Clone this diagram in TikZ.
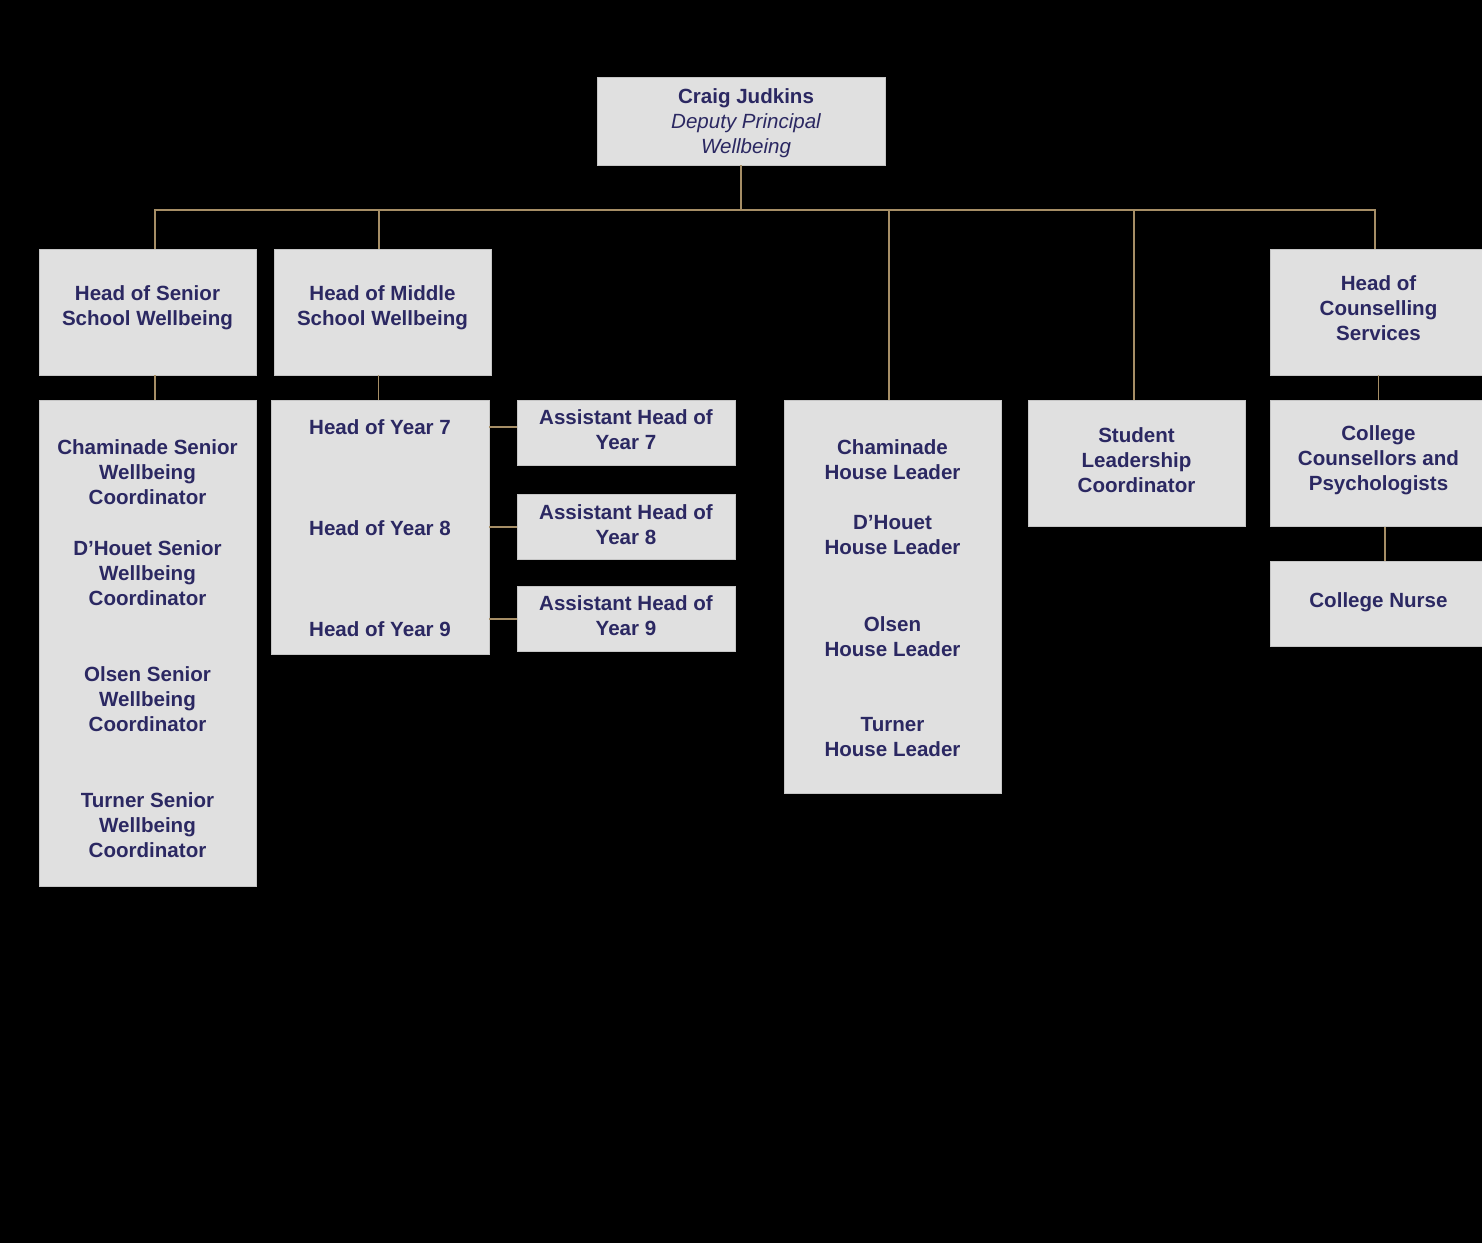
\documentclass[tikz,border=0pt]{standalone}
\usepackage{fontspec}
\setmainfont{Liberation Sans}
\usepackage{tikz}
\usetikzlibrary{shapes,positioning}
\definecolor{boxgray}{HTML}{E0E0E0}
\definecolor{inkblue}{HTML}{2B2862}
\definecolor{linkgold}{HTML}{A68E66}
\tikzstyle{box}=[rectangle, draw=gray!45, fill=boxgray, line width=0.4pt, minimum width=4.34cm]
\tikzstyle{label}=[align=center, inner sep=0pt]
\tikzstyle{link}=[draw=linkgold, line width=1pt]

\begin{document}
\begin{tikzpicture}[x=0.02cm,y=-0.02cm,font=\fontsize{11.7}{14.2}\selectfont\bfseries,text=inkblue]

        \fill[black] (0,0) rectangle (1482,1243);
        \useasboundingbox (0,0) rectangle (1482,1243);

        \node[box,
            minimum width=5.76cm,
            minimum height=1.76cm] (top) at (741,121) {};
        \node[label] (topname) at (746,123) {Craig Judkins\\\mdseries\itshape Deputy Principal\\\mdseries\itshape Wellbeing};

        \node[box,
            minimum height=2.52cm] (senhead) at (147.5,312) {};
        \node[label] at ([yshift=0.09cm]senhead) {Head of Senior\\School Wellbeing};

        \node[box,
            minimum height=2.52cm] (midhead) at (382.5,312) {};
        \node[label] at ([yshift=0.09cm]midhead) {Head of Middle\\School Wellbeing};

        \node[box,
            minimum height=2.52cm] (counhead) at (1378.5,312) {};
        \node[label] at ([yshift=0.08cm]counhead) {Head of\\Counselling\\Services};

        % senior list
        \node[box,
            minimum height=9.72cm] (senlist) at (147.5,643) {};
        \node[label] (sen1) at (147.5,472) {Chaminade Senior\\Wellbeing\\Coordinator};
        \node[label] (sen2) at (147.5,573) {D’Houet Senior\\Wellbeing\\Coordinator};
        \node[label] (sen3) at (147.5,699) {Olsen Senior\\Wellbeing\\Coordinator};
        \node[label] (sen4) at (147.5,825) {Turner Senior\\Wellbeing\\Coordinator};

        % middle years
        \node[box,
            minimum width=4.36cm,
            minimum height=5.08cm] (yearbox) at (380,527) {};
        \node[label] (y7) at (380,427) {Head of Year 7};
        \node[label] (y8) at (380,528) {Head of Year 8};
        \node[label] (y9) at (380,629) {Head of Year 9};

        \node[box,
            minimum width=4.36cm,
            minimum height=1.3cm] (asst7) at (626,432.5) {};
        \node[box,
            minimum width=4.36cm,
            minimum height=1.3cm,
            below=0.58cm of asst7] (asst8) {};
        \node[box,
            minimum width=4.36cm,
            minimum height=1.3cm,
            below=0.52cm of asst8] (asst9) {};
        \foreach \n in {7,8,9}
            \node[label] at ([yshift=0.06cm]asst\n) {Assistant Head of\\Year \n};

        % houses
        \node[box,
            minimum height=7.86cm] (houses) at (892.5,596.5) {};
        \node[label] (h1) at (892.5,459.5) {Chaminade\\House Leader};
        \node[label] (h2) at (892.5,535.5) {D’Houet\\House Leader};
        \node[label] (h3) at (892.5,636.5) {Olsen\\House Leader};
        \node[label] (h4) at (892.5,737.5) {Turner\\House Leader};

        \node[box,
            minimum height=2.52cm] (student) at (1136.5,463) {};
        \node[label] at ([yshift=0.06cm]student) {Student\\Leadership\\Coordinator};

        \node[box,
            minimum height=2.52cm,
            below=0.5cm of counhead] (counsel) {};
        \node[label] at ([yshift=0.06cm]counsel) {College\\Counsellors and\\Psychologists};

        \node[box,
            minimum height=1.7cm,
            below=0.68cm of counsel] (nurse) {};
        \node[label] at ([yshift=0.04cm]nurse) {College Nurse};

% Lines
        \coordinate (bus) at (741,210);
        \draw[link] (top.south) -- (bus);
        \draw[link] ([xshift=0.15cm]senhead.north) |- (bus) -| ([xshift=-0.07cm]counhead.north);
        \draw[link] ([xshift=-0.07cm]bus -| midhead.north) -- ([xshift=-0.07cm]midhead.north);
        \draw[link] ([xshift=-0.07cm]bus -| houses.north) -- ([xshift=-0.07cm]houses.north);
        \draw[link] ([xshift=-0.05cm]bus -| student.north) -- ([xshift=-0.05cm]student.north);

        \draw[link] ([xshift=0.15cm]senhead.south) -- ([xshift=0.15cm]senlist.north);
        \draw[link] ([xshift=-0.08cm]midhead.south) -- ([xshift=-0.08cm]midhead.south |- yearbox.north);
        \draw[link] (y7 -| yearbox.east) -- (y7 -| asst7.west);
        \draw[link] (asst8.west -| yearbox.east) -- (asst8.west);
        \draw[link] (asst9.west -| yearbox.east) -- (asst9.west);

        \draw[link] (counhead.south) -- (counsel.north);
        \draw[link] ([xshift=0.13cm]counsel.south) -- ([xshift=0.13cm]nurse.north);

    \end{tikzpicture}
\end{document}
